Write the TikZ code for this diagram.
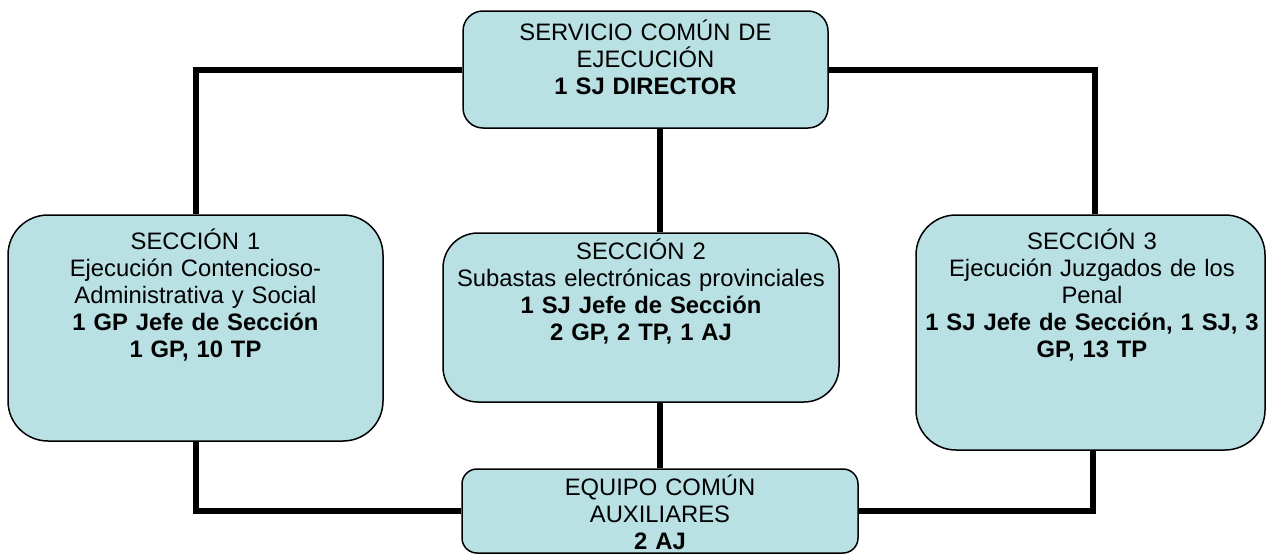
\documentclass[tikz,border=0pt]{standalone}
\usepackage{fontspec}
\setmainfont{Liberation Sans}
\definecolor{boxfill}{RGB}{185,224,227}
\begin{document}
\begin{tikzpicture}[x=1pt,y=-1pt,
  box/.style={draw=black, line width=1.5pt, fill=boxfill, inner sep=0pt},
  conn/.style={line width=6pt, draw=black},
  txt/.style={anchor=base, inner sep=0pt, text width=420pt, align=center,
              font=\fontsize{23.8}{27.2}\selectfont}]
\useasboundingbox (0,0) rectangle (1266,554);
% boxes
\node[box, minimum width=365pt, minimum height=117pt, rounded corners=20pt] (top) at (645.5,69.5) {};
\node[box, minimum width=375pt, minimum height=226pt, rounded corners=40pt] (s1) at (195.5,328) {};
\node[box, minimum width=396pt, minimum height=169pt, rounded corners=35pt] (s2) at (641,317.5) {};
\node[box, minimum width=349pt, minimum height=235pt, rounded corners=40pt] (s3) at (1090.5,332.5) {};
\node[box, minimum width=396pt, minimum height=84pt, rounded corners=15pt] (eq) at (660,511) {};
% connectors
\draw[conn] (top.west) -| (s1.north);
\draw[conn] (top.east) -| ([xshift=4pt]s3.north);
\draw[conn] (top.south -| eq.north) -- (s2.north -| eq.north);
\draw[conn] (s2.south -| eq.north) -- (eq.north);
\draw[conn] (s1.south) |- (eq.west);
\draw[conn] ([xshift=2.5pt]s3.south) |- (eq.east);
% texts
\node[txt] (ttop) at (645.5,40) {SERVICIO COMÚN DE\\EJECUCIÓN\\\textbf{1 SJ DIRECTOR}};
\node[txt] (ts1) at (195.5,249) {SECCIÓN 1\\Ejecución Contencioso-\\Administrativa y Social\\\textbf{1 GP Jefe de Sección}\\\textbf{1 GP, 10 TP}};
\node[txt] (ts2) at (641,259) {SECCIÓN 2\\Subastas electrónicas provinciales\\\textbf{1 SJ Jefe de Sección}\\\textbf{2 GP, 2 TP, 1 AJ}};
\node[txt] (ts3) at (1092,249) {SECCIÓN 3\\Ejecución Juzgados de los\\Penal\\\textbf{1 SJ Jefe de Sección, 1 SJ, 3}\\\textbf{GP, 13 TP}};
\node[txt] (teq) at (660,495.5) {EQUIPO COMÚN\\AUXILIARES\\\textbf{2 AJ}};
\end{tikzpicture}
\end{document}
